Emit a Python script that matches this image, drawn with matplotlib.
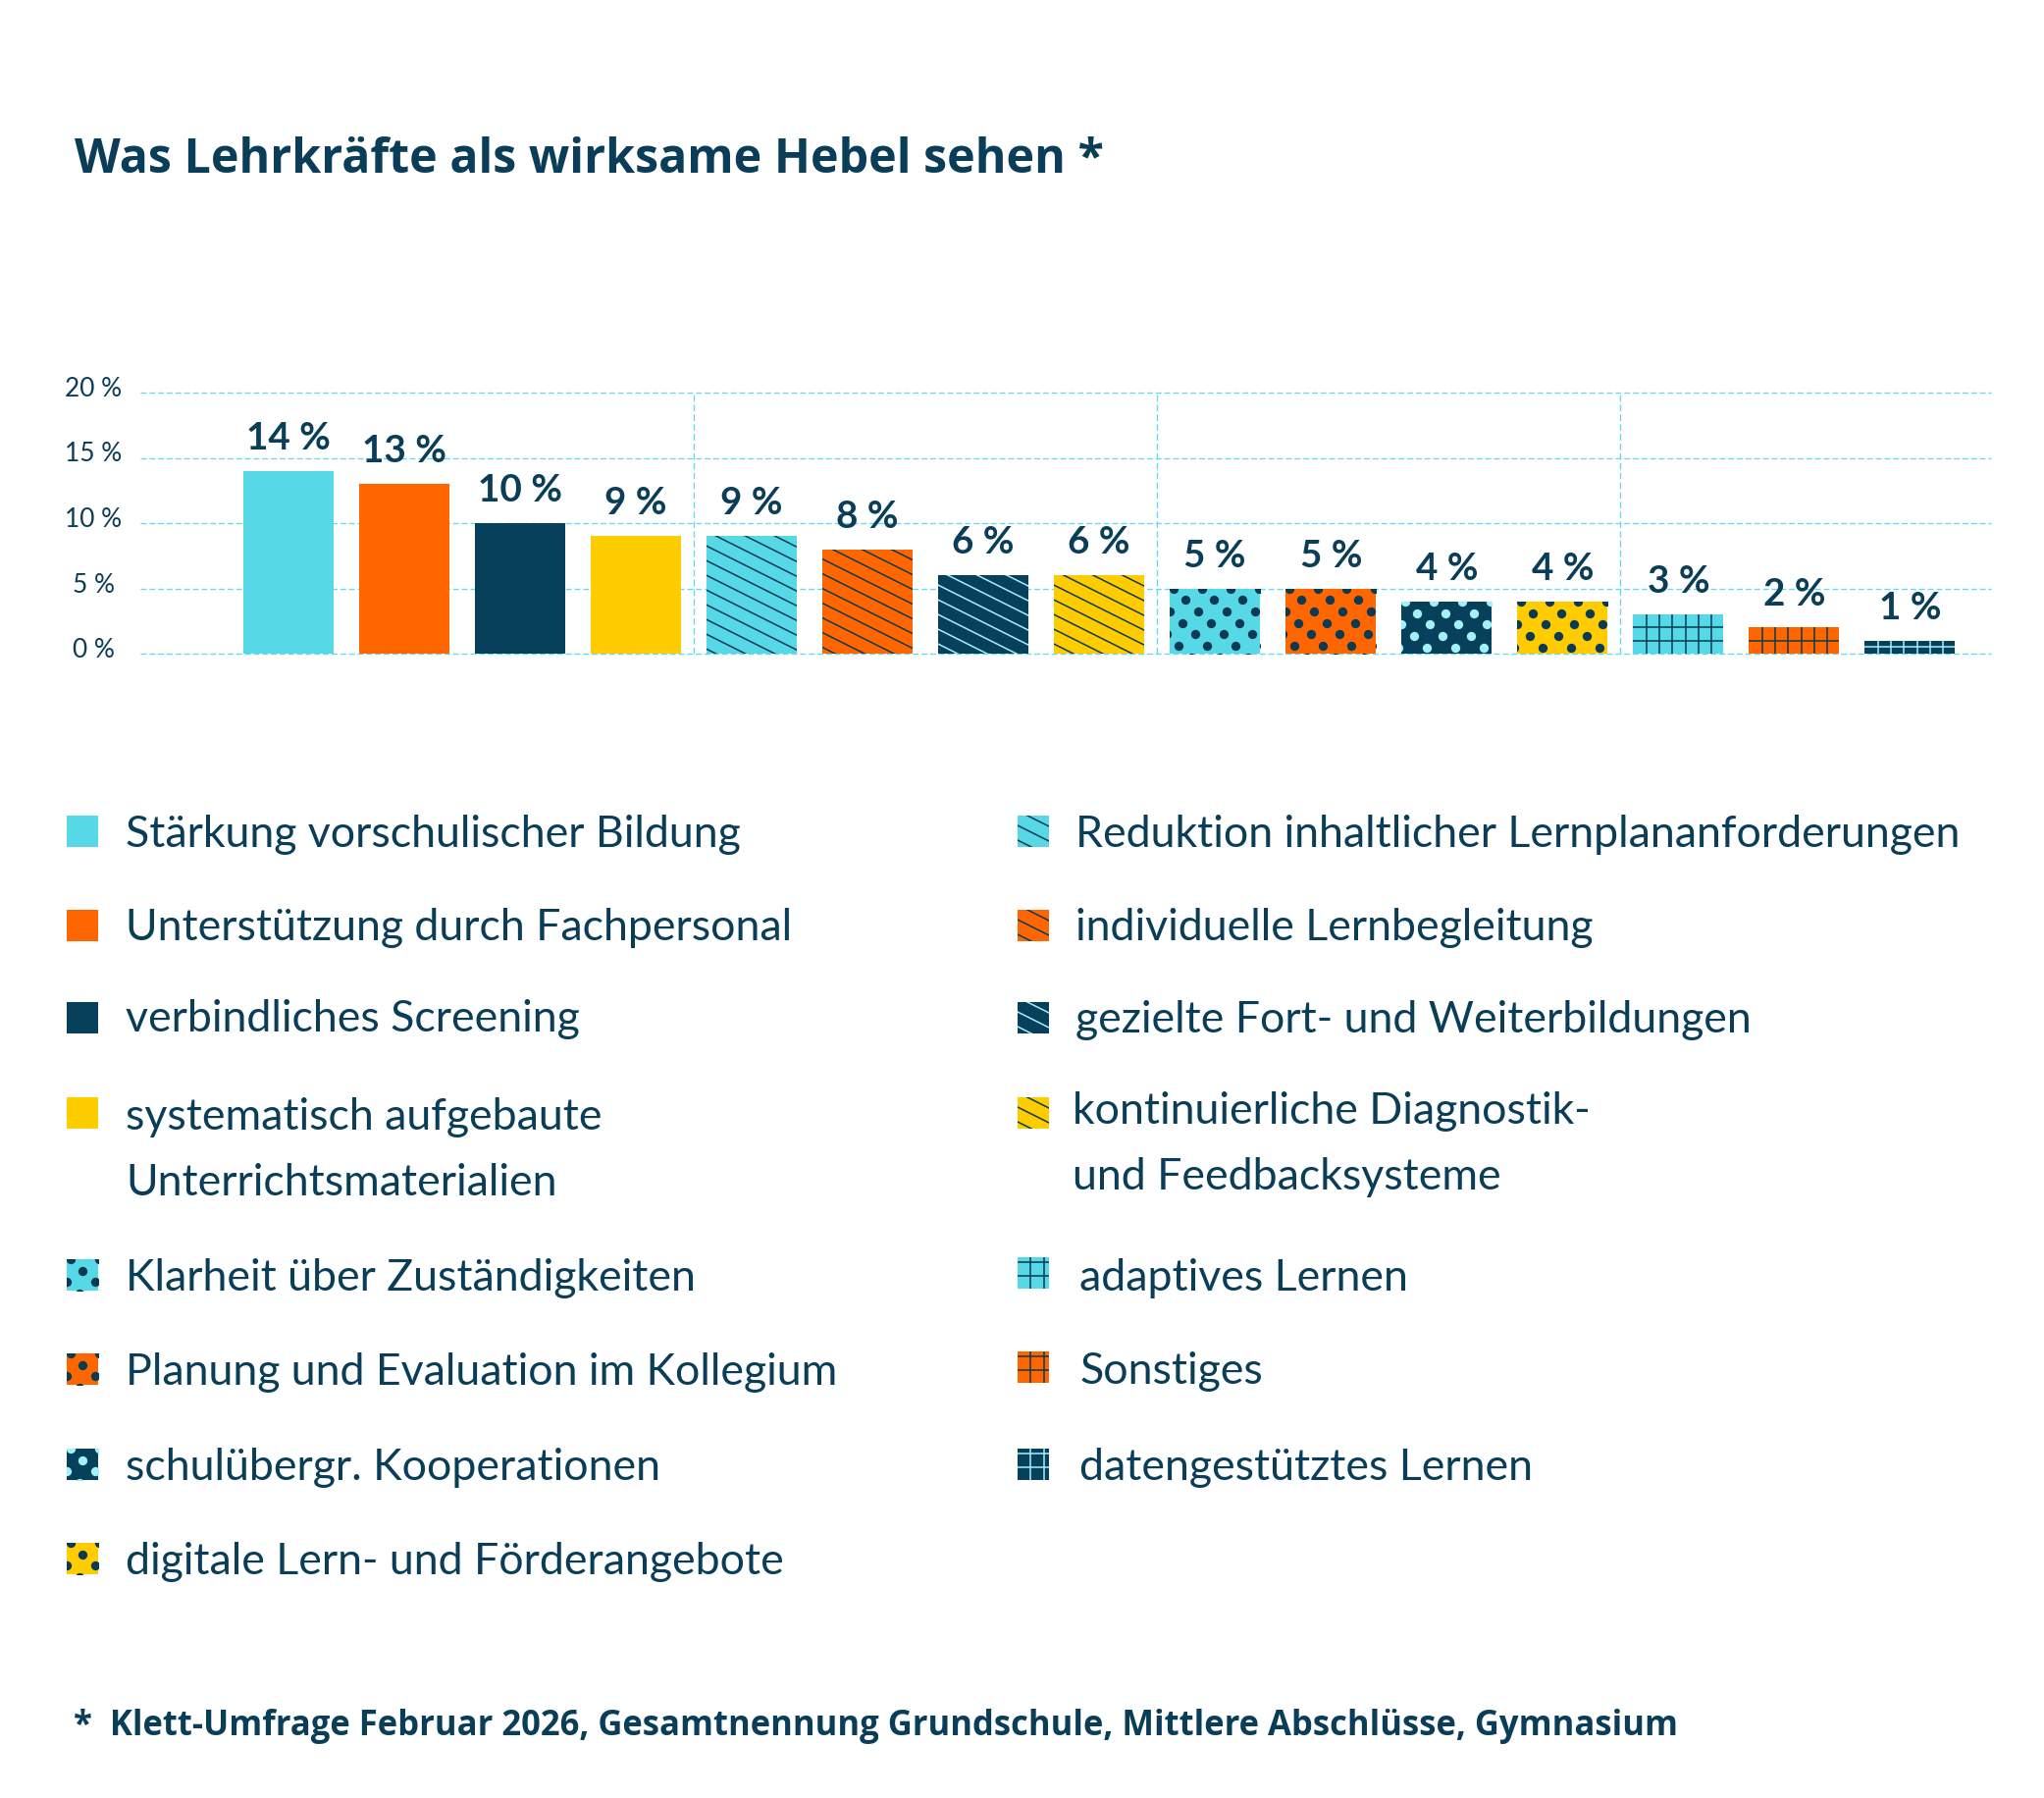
import numpy as np
import matplotlib
matplotlib.use("Agg")
import matplotlib.pyplot as plt
from matplotlib.patches import Rectangle
from matplotlib.collections import LineCollection
from matplotlib.transforms import blended_transform_factory, ScaledTranslation

# ---------------- data ----------------
title = "Was Lehrkräfte als wirksame Hebel sehen *"
footnote = "*  Klett-Umfrage Februar 2026, Gesamtnennung Grundschule, Mittlere Abschlüsse, Gymnasium"
categories = [
    "Stärkung vorschulischer Bildung",
    "Unterstützung durch Fachpersonal",
    "verbindliches Screening",
    "systematisch aufgebaute\nUnterrichtsmaterialien",
    "Reduktion inhaltlicher Lernplananforderungen",
    "individuelle Lernbegleitung",
    "gezielte Fort- und Weiterbildungen",
    "kontinuierliche Diagnostik-\nund Feedbacksysteme",
    "Klarheit über Zuständigkeiten",
    "Planung und Evaluation im Kollegium",
    "schulübergr. Kooperationen",
    "digitale Lern- und Förderangebote",
    "adaptives Lernen",
    "Sonstiges",
    "datengestütztes Lernen",
]
values = [14, 13, 10, 9, 9, 8, 6, 6, 5, 5, 4, 4, 3, 2, 1]
value_labels = [f"{v} %" for v in values]
y_ticks = [0, 5, 10, 15, 20]
y_tick_labels = ["0 %", "5 %", "10 %", "15 %", "20 %"]
patterns = ["solid"] * 4 + ["diag"] * 4 + ["dots"] * 4 + ["grid"] * 3

# ---------------- style ----------------
CYAN = "#57D8E6"
ORANGE = "#FF6600"
NAVY = "#06405A"
YELLOW = "#FFCC00"
TEXT = "#0A3D57"
DARK_PAT = "#0B3A52"
LIGHT_PAT = "#A3F1F8"
GRID = "#62DCEA"
base_cycle = [CYAN, ORANGE, NAVY, YELLOW]
fill_colors = [base_cycle[i % 4] for i in range(len(values))]
pat_colors = [LIGHT_PAT if c == NAVY else DARK_PAT for c in fill_colors]

W, H, DPI = 2083, 1833, 100
fig = plt.figure(figsize=(W / DPI, H / DPI), dpi=DPI)
fig.patch.set_facecolor("white")

# chart axes (pixel layout of the reference)
ax_l, ax_r, ax_t, ax_b = 143, 2029, 401, 667
ax = fig.add_axes([ax_l / W, 1 - ax_b / H, (ax_r - ax_l) / W, (ax_b - ax_t) / H])
ax.set_xlim(-1.28, 14.70)
ax.set_ylim(0, 20)
ax.axis("off")

# overlay axes in pixel coordinates (top-left origin)
ov = fig.add_axes([0, 0, 1, 1], zorder=5)
ov.set_xlim(0, W)
ov.set_ylim(H, 0)
ov.axis("off")
ov.patch.set_alpha(0)

renderer = fig.canvas.get_renderer()


def fitted_size(s, target_w, **kw):
    t = ov.text(0, 0, s, fontsize=20, **kw)
    w = t.get_window_extent(renderer).width
    t.remove()
    return 20.0 * target_w / w


# ---------------- grid ----------------
dash = (0, (4.5, 2.2))
for yv in y_ticks:
    ax.axhline(yv, color=GRID, lw=0.95, ls=dash, zorder=0.5, clip_on=False)
x = np.arange(len(values))
group_edges = [i - 0.5 for i in range(1, len(patterns)) if patterns[i] != patterns[i - 1]]
ax.vlines(group_edges, 0, 20, color=GRID, lw=0.95, ls=(0, (5, 2.5)), zorder=0.5)

# ---------------- bars ----------------
bars = ax.bar(x, values, width=0.78, color=fill_colors, linewidth=0, zorder=2)


def add_pattern(axis, patch, kind, color, z=3, dot_size=45):
    if kind == "solid":
        return
    b = patch.get_bbox().get_points()
    d = axis.transData.transform(b)
    x0, x1 = sorted(d[:, 0])
    y0, y1 = sorted(d[:, 1])
    h = y1 - y0
    inv = axis.transData.inverted()
    if kind == "diag":
        step = 30.0
        n_back = int(np.ceil((2 * h + 20) / step)) + 1
        cs = np.arange(x0 + 10 - step * n_back, x1 + step, step)
        segs = []
        for c in cs:
            p = np.array([[c - 10, y1 + 5], [c + 2 * (h + 10), y1 - (h + 10)]])
            segs.append(inv.transform(p))
        lc = LineCollection(segs, colors=color, linewidths=1.1, zorder=z)
        axis.add_collection(lc, autolim=False)
        lc.set_clip_path(patch)
    elif kind == "dots":
        a, bx, by = 29.0, 12.7, 11.7
        pts = []
        nrows = int(np.ceil(h / by)) + 2
        for j in range(nrows):
            yy = y1 - j * by
            start = x0 + 3.5 + (j * bx) % a - a
            for xx in np.arange(start, x1 + a, a):
                pts.append((xx, yy))
        pts = inv.transform(np.array(pts))
        sc = axis.scatter(pts[:, 0], pts[:, 1], s=dot_size, color=color, linewidths=0, zorder=z)
        sc.set_clip_path(patch)
    elif kind == "grid":
        step = 13.3
        sy = min(step, h / 2.0)
        segs = []
        xx = x0 + step
        while xx < x1 - 2:
            segs.append(inv.transform(np.array([[xx, y0 - 2], [xx, y1 + 2]])))
            xx += step
        yy = y0 + sy
        while yy < y1 - 2:
            segs.append(inv.transform(np.array([[x0 - 2, yy], [x1 + 2, yy]])))
            yy += sy
        lc = LineCollection(segs, colors=color, linewidths=1.1, zorder=z)
        axis.add_collection(lc, autolim=False)
        lc.set_clip_path(patch)


for bar, kind, pc in zip(bars, patterns, pat_colors):
    add_pattern(ax, bar, kind, pc)

# value labels
val_fs = fitted_size("14 %", 86, family="Lato", fontweight="bold")
for xi, v, lbl in zip(x, values, value_labels):
    ax.annotate(lbl, xy=(xi, v), xytext=(0, 23 * 72 / DPI), textcoords="offset points",
                ha="center", va="baseline", fontsize=val_fs, fontweight="bold",
                family="Lato", color=TEXT, zorder=4)

# y tick labels
tick_fs = fitted_size("20 %", 58, family="Lato")
blend = blended_transform_factory(ov.transData, ax.transData)
off = ScaledTranslation(0, -3 / DPI, fig.dpi_scale_trans)
for yv, lbl in zip(y_ticks, y_tick_labels):
    fig.text(95, yv, lbl, transform=blend + off, ha="center", va="baseline",
             fontsize=tick_fs, family="Lato", color=TEXT)

# ---------------- title & footnote ----------------
title_fs = fitted_size(title, 1048, family="Open Sans", fontweight="bold")
ov.text(76, 176, title, ha="left", va="baseline", fontsize=title_fs,
        fontweight="bold", family="Open Sans", color=TEXT)
foot_fs = fitted_size(footnote, 1637, family="Open Sans", fontweight="bold")
ov.text(75, 1768, footnote, ha="left", va="baseline", fontsize=foot_fs,
        fontweight="bold", family="Open Sans", color=TEXT)

# ---------------- legend ----------------
leg_fs = fitted_size(categories[4], 905, family="Lato")
left_idx = [i for i, p in enumerate(patterns) if p in ("solid", "dots")]
right_idx = [i for i, p in enumerate(patterns) if p in ("diag", "grid")]
left_sq_top = [832, 928, 1022, 1119, 1284, 1380, 1477, 1573]
left_base = [863, 958, 1051, 1151, 1315, 1411, 1508, 1604]
left_tx = [128] * 8
right_sq_top = [832, 928, 1022, 1119, 1282, 1378, 1477]
right_base = [863, 958, 1052, 1145, 1315, 1410, 1508]
right_tx = [1096, 1096, 1096, 1093, 1100, 1100, 1100]
SQ = 32
LINE_GAP = 67


def legend_column(idx, sq_x, tops, bases, txs):
    for i, top, base, tx in zip(idx, tops, bases, txs):
        r = Rectangle((sq_x, top), SQ, SQ, facecolor=fill_colors[i], linewidth=0, zorder=2)
        ov.add_patch(r)
        add_pattern(ov, r, patterns[i], pat_colors[i], z=3)
        for k, line in enumerate(categories[i].split("\n")):
            ov.text(tx, base + k * LINE_GAP, line, ha="left", va="baseline",
                    fontsize=leg_fs, family="Lato", color=TEXT)


legend_column(left_idx, 68, left_sq_top, left_base, left_tx)
legend_column(right_idx, 1037, right_sq_top, right_base, right_tx)

fig.savefig("out.png", dpi=DPI, facecolor="white")
